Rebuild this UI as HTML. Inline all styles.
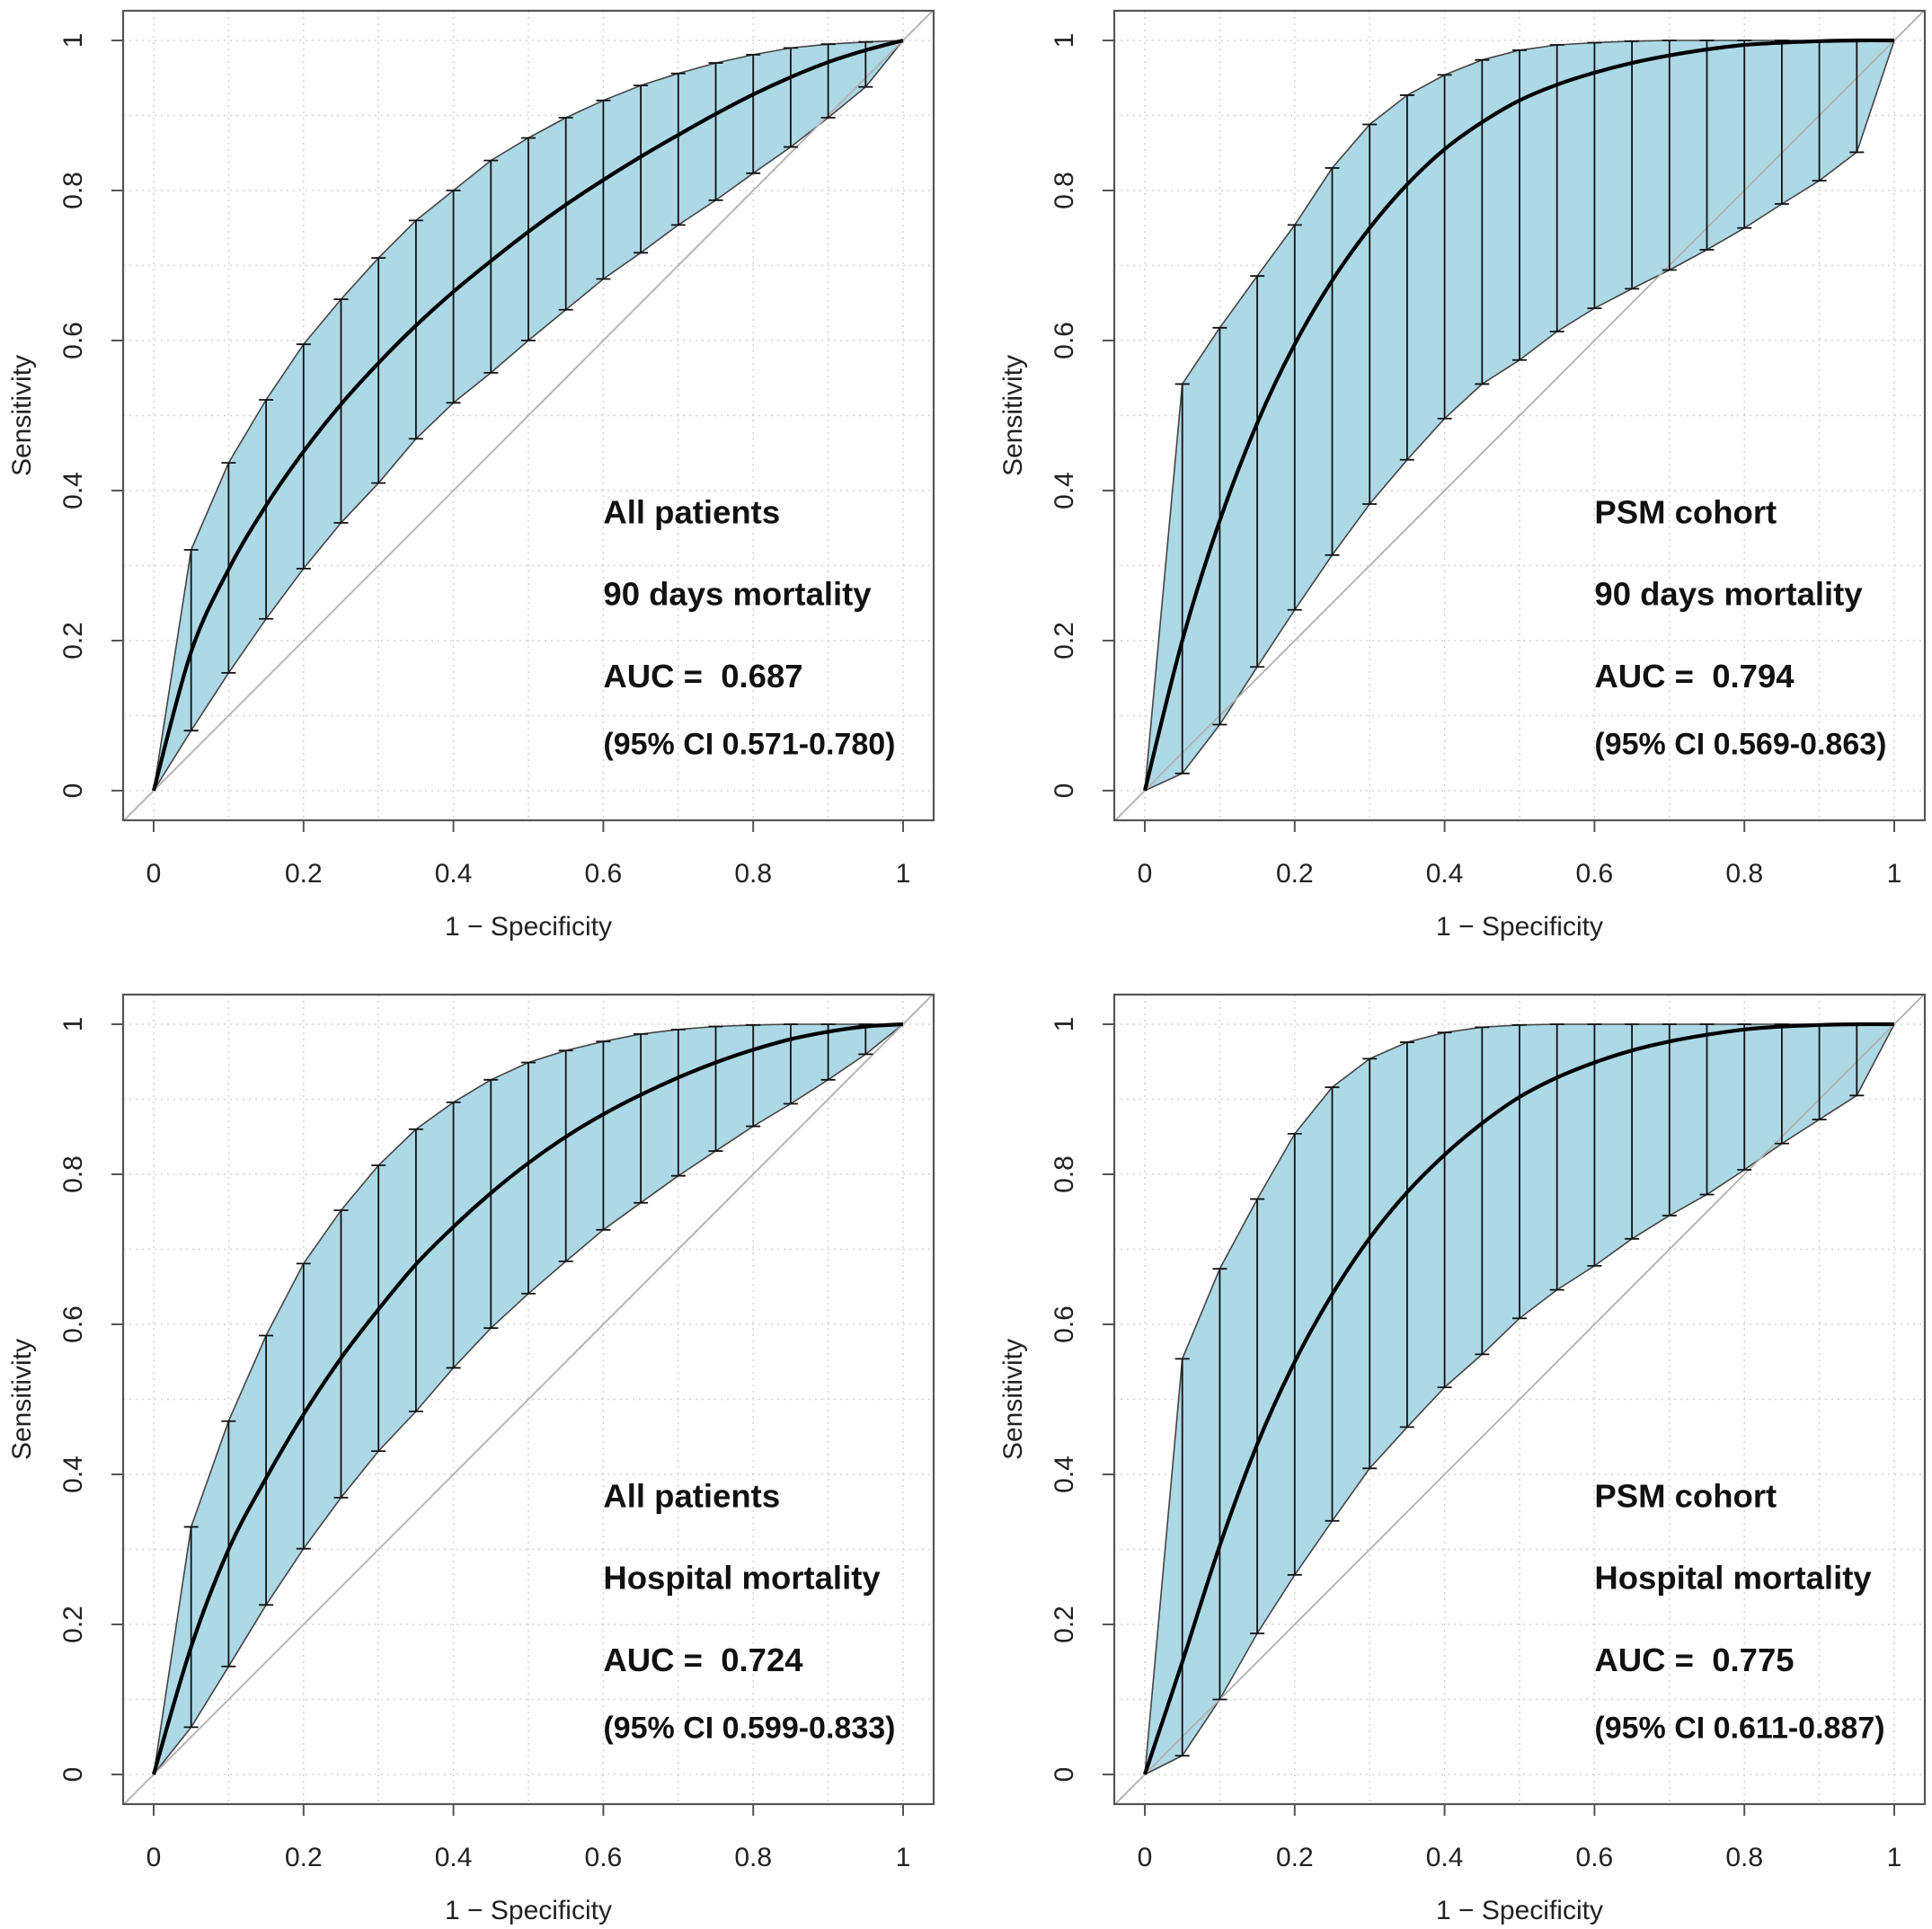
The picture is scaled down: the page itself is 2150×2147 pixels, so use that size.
<!DOCTYPE html>
<html><head><meta charset="utf-8"><title>ROC curves</title>
<style>
html,body{margin:0;padding:0;background:#fff;}
svg{display:block;font-family:"Liberation Sans",Arial,sans-serif;}
text{white-space:pre;}
</style></head>
<body>
<svg id="chart" width="2150" height="2147" viewBox="0 0 2150 2147" xmlns="http://www.w3.org/2000/svg"></svg>
<script>
// Shared x grid (1 - specificity)
const fprValues = [0,0.05,0.1,0.15,0.2,0.25,0.3,0.35,0.4,0.45,0.5,0.55,0.6,0.65,0.7,0.75,0.8,0.85,0.9,0.95,1];
const tickValues = [0,0.2,0.4,0.6,0.8,1];
const tickLabels = ["0","0.2","0.4","0.6","0.8","1"];

// Panel A: All patients, 90 days mortality
const meanA  = [0,0.185,0.295,0.38,0.452,0.515,0.57,0.62,0.665,0.706,0.745,0.781,0.814,0.845,0.874,0.902,0.928,0.951,0.971,0.987,1];
const upperA = [0,0.321,0.437,0.521,0.595,0.655,0.71,0.76,0.8,0.84,0.87,0.897,0.92,0.94,0.956,0.97,0.981,0.99,0.995,0.998,1];
const lowerA = [0,0.08,0.157,0.229,0.296,0.357,0.41,0.469,0.517,0.557,0.6,0.641,0.682,0.717,0.754,0.787,0.823,0.858,0.897,0.938,1];
const textA  = ["All patients","90 days mortality","AUC =  0.687","(95% CI 0.571-0.780)"];

// Panel B: PSM cohort, 90 days mortality
const meanB  = [0,0.2,0.36,0.49,0.595,0.68,0.75,0.808,0.855,0.891,0.92,0.941,0.957,0.97,0.98,0.988,0.994,0.997,0.999,1,1];
const upperB = [0,0.542,0.617,0.686,0.754,0.83,0.888,0.927,0.954,0.974,0.987,0.994,0.997,0.999,1,1,1,1,1,1,1];
const lowerB = [0,0.023,0.088,0.165,0.241,0.314,0.382,0.441,0.496,0.542,0.574,0.612,0.643,0.669,0.694,0.721,0.75,0.782,0.813,0.851,1];
const textB  = ["PSM cohort","90 days mortality","AUC =  0.794","(95% CI 0.569-0.863)"];

// Panel C: All patients, Hospital mortality
const meanC  = [0,0.17,0.3,0.395,0.48,0.555,0.62,0.68,0.73,0.775,0.815,0.85,0.88,0.906,0.929,0.949,0.966,0.98,0.99,0.997,1];
const upperC = [0,0.33,0.471,0.585,0.681,0.752,0.812,0.86,0.896,0.926,0.949,0.965,0.977,0.987,0.993,0.997,0.999,1,1,1,1];
const lowerC = [0,0.063,0.144,0.226,0.301,0.369,0.431,0.484,0.542,0.595,0.641,0.684,0.726,0.762,0.798,0.831,0.864,0.894,0.926,0.96,1];
const textC  = ["All patients","Hospital mortality","AUC =  0.724","(95% CI 0.599-0.833)"];

// Panel D: PSM cohort, Hospital mortality
const meanD  = [0,0.15,0.305,0.44,0.55,0.64,0.715,0.776,0.826,0.868,0.903,0.929,0.949,0.965,0.977,0.986,0.993,0.997,0.999,1,1];
const upperD = [0,0.554,0.674,0.767,0.854,0.916,0.954,0.976,0.989,0.996,0.999,1,1,1,1,1,1,1,1,1,1];
const lowerD = [0,0.025,0.1,0.188,0.266,0.338,0.408,0.463,0.516,0.56,0.608,0.646,0.678,0.714,0.745,0.773,0.806,0.841,0.873,0.905,1];
const textD  = ["PSM cohort","Hospital mortality","AUC =  0.775","(95% CI 0.611-0.887)"];

const NS = "http://www.w3.org/2000/svg";
const svg = document.getElementById('chart');
function mk(tag, attrs, parent){
  const e = document.createElementNS(NS, tag);
  for (const k in attrs) e.setAttribute(k, attrs[k]);
  (parent||svg).appendChild(e);
  return e;
}

const panels = [
  {name:"all-90d", ox:0, oy:0, mean:meanA, up:upperA, lo:lowerA, text:textA},
  {name:"psm-90d", ox:1103, oy:0, mean:meanB, up:upperB, lo:lowerB, text:textB},
  {name:"all-hosp", ox:0, oy:1095, mean:meanC, up:upperC, lo:lowerC, text:textC},
  {name:"psm-hosp", ox:1103, oy:1095, mean:meanD, up:upperD, lo:lowerD, text:textD}
];

function smoothPath(pts){
  let d = "M"+pts[0][0]+","+pts[0][1];
  for (let i=0;i<pts.length-1;i++){
    const p0=pts[Math.max(i-1,0)], p1=pts[i], p2=pts[i+1], p3=pts[Math.min(i+2,pts.length-1)];
    const c1x=p1[0]+(p2[0]-p0[0])/6, c1y=p1[1]+(p2[1]-p0[1])/6;
    const c2x=p2[0]-(p3[0]-p1[0])/6, c2y=p2[1]-(p3[1]-p1[1])/6;
    d += " C"+c1x.toFixed(1)+","+c1y.toFixed(1)+" "+c2x.toFixed(1)+","+c2y.toFixed(1)+" "+p2[0].toFixed(1)+","+p2[1].toFixed(1);
  }
  return d;
}

panels.forEach((p, idx) => {
  const g = mk('g', {});
  
  
  const X0 = 171 + p.ox, X1 = 1005 + p.ox;
  const Y0 = 880 + p.oy, Y1 = 45 + p.oy;
  const sx = v => X0 + v*(X1-X0);
  const sy = v => Y0 - v*(Y0-Y1);
  const bx0 = 137 + p.ox, bx1 = 1039 + p.ox, by0 = 12 + p.oy, by1 = 913 + p.oy;

  const clipId = 'clip'+idx;
  const cp = mk('clipPath', {id:clipId}, g);
  mk('rect', {x:bx0, y:by0, width:bx1-bx0, height:by1-by0}, cp);

  const grid = mk('g', {stroke:'#d3d3d3', 'stroke-width':1.5, 'stroke-dasharray':'2,5'}, g);
  
  
  for (let k=0;k<=10;k++){
    const v = k/10;
    mk('line', {x1:sx(v), x2:sx(v), y1:by0, y2:by1}, grid);
    mk('line', {x1:bx0, x2:bx1, y1:sy(v), y2:sy(v)}, grid);
  }

  const bandPts = [];
  fprValues.forEach((f,i)=>bandPts.push(sx(f).toFixed(1)+","+sy(p.up[i]).toFixed(1)));
  for (let i=fprValues.length-1;i>=0;i--) bandPts.push(sx(fprValues[i]).toFixed(1)+","+sy(p.lo[i]).toFixed(1));
  const band = mk('polygon', {points:bandPts.join(' '), fill:'#add8e6', stroke:'#444', 'stroke-width':1.6}, g);
  
  

  const diag = mk('line', {x1:sx(-0.05), y1:sy(-0.05), x2:sx(1.05), y2:sy(1.05), stroke:'#b0b0b0', 'stroke-width':1.8, 'clip-path':'url(#'+clipId+')'}, g);
  
  

  fprValues.forEach((f,i)=>{
    if (i===0 || i===fprValues.length-1) return;
    const eb = mk('g', {stroke:'#111', 'stroke-width':1.8}, g);
    
    
    const x = sx(f);
    mk('line', {x1:x, x2:x, y1:sy(p.lo[i]), y2:sy(p.up[i])}, eb);
    mk('line', {x1:x-8, x2:x+8, y1:sy(p.lo[i]), y2:sy(p.lo[i])}, eb);
    mk('line', {x1:x-8, x2:x+8, y1:sy(p.up[i]), y2:sy(p.up[i])}, eb);
  });

  const pts = fprValues.map((f,i)=>[sx(f), sy(p.mean[i])]);
  const curve = mk('path', {d:smoothPath(pts), fill:'none', stroke:'#000', 'stroke-width':4.2}, g);
  
  

  const box = mk('rect', {x:bx0, y:by0, width:bx1-bx0, height:by1-by0, fill:'none', stroke:'#555', 'stroke-width':2.2}, g);
  
  

  const xa = mk('g', {}, g);
  
  
  const ya = mk('g', {}, g);
  
  
  tickValues.forEach((v,i)=>{
    mk('line', {x1:sx(v), x2:sx(v), y1:by1, y2:by1+13, stroke:'#555', 'stroke-width':2}, xa);
    const xt = mk('text', {x:sx(v), y:982 + p.oy, 'font-size':30, 'text-anchor':'middle', fill:'#222'}, xa);
    xt.textContent = tickLabels[i];
    mk('line', {x1:bx0-13, x2:bx0, y1:sy(v), y2:sy(v), stroke:'#555', 'stroke-width':2}, ya);
    const tx = 91 + p.ox, ty = sy(v);
    const yt = mk('text', {x:tx, y:ty, 'font-size':30, 'text-anchor':'middle', fill:'#222', transform:'rotate(-90 '+tx+' '+ty+')'}, ya);
    yt.textContent = tickLabels[i];
  });
  const xtitle = mk('text', {x:(X0+X1)/2, y:1041+p.oy, 'font-size':30, 'text-anchor':'middle', fill:'#222'}, g);
  
  
  xtitle.textContent = "1 \u2212 Specificity";
  const ytx = 34 + p.ox, yty = (Y0+Y1)/2;
  const ytitle = mk('text', {x:ytx, y:yty, 'font-size':30, 'text-anchor':'middle', fill:'#222', transform:'rotate(-90 '+ytx+' '+yty+')'}, g);
  
  
  ytitle.textContent = "Sensitivity";

  const ann = mk('g', {'font-size':36.5, 'font-weight':'bold', fill:'#111'}, g);
  
  
  const annY = [0.372, 0.263, 0.153, 0.064];
  p.text.forEach((t,i)=>{
    const te = mk('text', {x:sx(0.6), y:sy(annY[i])+13}, ann);
    if (i===3) te.setAttribute('font-size', 34);
    te.textContent = t;
  });
});
</script>
</body></html>
